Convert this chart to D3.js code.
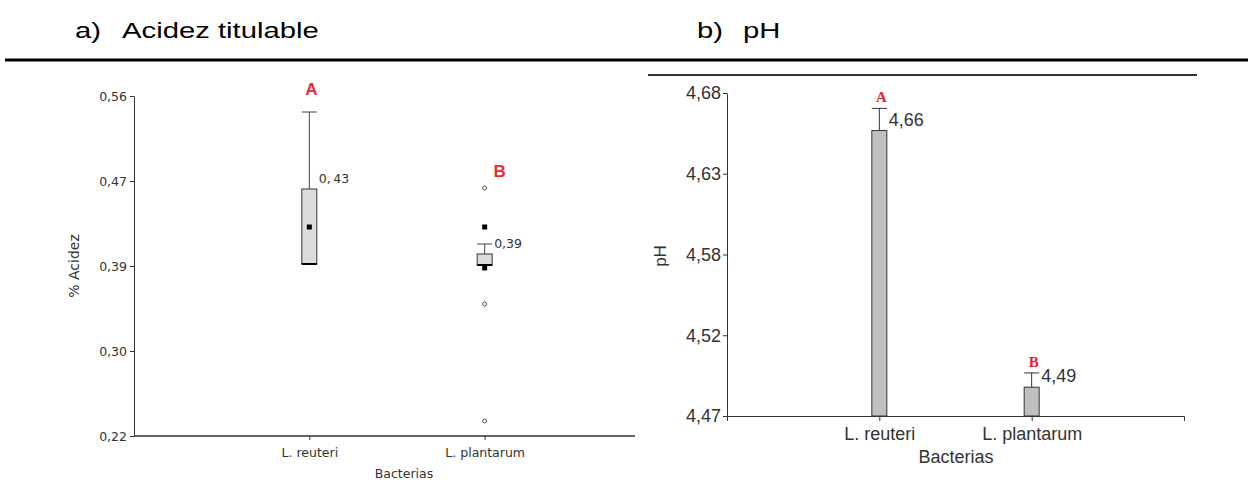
<!DOCTYPE html>
<html>
<head>
<meta charset="utf-8">
<script src="https://cdn.jsdelivr.net/npm/d3@7"></script>
<style>
  body { margin: 0; background: #fff; }
  svg { display: block; }
  .tick text { fill: #333; }
</style>
</head>
<body>
<div id="chart"></div>
<script>
// data
var bacterias = ["L. reuteri", "L. plantarum"];

// a) acidez titulable (boxplot)
var acidTicks = [0.22, 0.305, 0.39, 0.475, 0.56];
var acidTickLabels = ["0,22", "0,30", "0,39", "0,47", "0,56"];
var acidQ1 = [0.392, 0.391];
var acidMedian = [0.392, 0.391];
var acidQ3 = [0.467, 0.402];
var acidWhiskerHi = [0.544, 0.412];
var acidMean = [0.429, 0.388];
var acidMeanLabels = ["0,\u200943", "0,39"];
var acidOutliers = [[], [0.468, 0.352, 0.235]];
var acidExtremes = [[], [0.429]];
var acidLetters = ["A", "B"];

// b) pH (bars + error)
var phTicks = [4.47, 4.5225, 4.575, 4.6275, 4.68];
var phTickLabels = ["4,47", "4,52", "4,58", "4,63", "4,68"];
var phMean = [4.6556, 4.4887];
var phErrTop = [4.670, 4.498];
var phLabels = ["4,66", "4,49"];
var phLetters = ["A", "B"];

var svgWidth = 1248, svgHeight = 480;
var svg = d3.select("#chart").append("svg")
  .attr("width", svgWidth)
  .attr("height", svgHeight);

// headers
function header(x, txt) {
  svg.append("text")
    .attr("transform", `translate(${x}, 38) scale(1.33, 1)`)
    .attr("font-family", "Liberation Sans, Arial, sans-serif")
    .attr("font-size", 22)
    .attr("fill", "#000")
    .text(txt);
}
header(75, "a)");
header(122, "Acidez titulable");
header(697, "b)");
header(743, "pH");

svg.append("line")
  .attr("x1", 5).attr("x2", svgWidth)
  .attr("y1", 60).attr("y2", 60)
  .attr("stroke", "#000").attr("stroke-width", 3);

// ---------- a) boxplot ----------
var aFont = "DejaVu Sans, Verdana, sans-serif";
var a = { left: 134, right: 635, top: 96, bottom: 436 };

var xA = d3.scalePoint().domain(bacterias).range([a.left, 660]).padding(1);
var yA = d3.scaleLinear().domain([0.22, 0.56]).range([a.bottom, a.top]);

var gA = svg.append("g");

var yAxisA = d3.axisLeft(yA)
  .tickValues(acidTicks)
  .tickFormat((d, i) => acidTickLabels[i])
  .tickSize(4).tickSizeOuter(0).tickPadding(3);
gA.append("g")
  .attr("transform", `translate(${a.left},0)`)
  .call(yAxisA)
  .call(g => g.selectAll("text").attr("font-family", aFont).attr("font-size", 12.5))
  .call(g => g.selectAll("line,path").attr("stroke", "#333"));

var xAxisA = d3.axisBottom(xA).tickSize(4).tickSizeOuter(0).tickPadding(8);
gA.append("g")
  .attr("transform", `translate(0,${a.bottom})`)
  .call(xAxisA)
  .call(g => g.select(".domain").remove())
  .call(g => g.selectAll("text").attr("font-family", aFont).attr("font-size", 12.5))
  .call(g => g.selectAll("line").attr("stroke", "#333"));
gA.append("line")
  .attr("x1", a.left).attr("x2", a.right)
  .attr("y1", a.bottom).attr("y2", a.bottom)
  .attr("stroke", "#333").attr("stroke-width", 1.5);

gA.append("text")
  .attr("transform", `translate(79, 266) rotate(-90)`)
  .attr("text-anchor", "middle")
  .attr("font-family", aFont).attr("font-size", 14)
  .attr("fill", "#333")
  .text("% Acidez");
gA.append("text")
  .attr("x", 404).attr("y", 478)
  .attr("text-anchor", "middle")
  .attr("font-family", aFont).attr("font-size", 12.5)
  .attr("fill", "#333")
  .text("Bacterias");

var boxW = 15;
bacterias.forEach((b, i) => {
  var cx = xA(b);
  // whisker
  gA.append("line")
    .attr("x1", cx).attr("x2", cx)
    .attr("y1", yA(acidWhiskerHi[i])).attr("y2", yA(acidQ3[i]))
    .attr("stroke", "#444");
  gA.append("line")
    .attr("x1", cx - boxW / 2).attr("x2", cx + boxW / 2)
    .attr("y1", yA(acidWhiskerHi[i])).attr("y2", yA(acidWhiskerHi[i]))
    .attr("stroke", "#444");
  // box
  gA.append("rect")
    .attr("x", cx - boxW / 2).attr("width", boxW)
    .attr("y", yA(acidQ3[i])).attr("height", yA(acidQ1[i]) - yA(acidQ3[i]))
    .attr("fill", "#dcdcdc").attr("stroke", "#333");
  // median
  gA.append("line")
    .attr("x1", cx - boxW / 2).attr("x2", cx + boxW / 2)
    .attr("y1", yA(acidMedian[i])).attr("y2", yA(acidMedian[i]))
    .attr("stroke", "#000").attr("stroke-width", 2);
  // mean
  gA.append("rect")
    .attr("x", cx - 2.5).attr("y", yA(acidMean[i]) - 2.5)
    .attr("width", 5).attr("height", 5)
    .attr("fill", "#000");
  // extremes
  acidExtremes[i].forEach(v => {
    gA.append("rect")
      .attr("x", cx - 2.5).attr("y", yA(v) - 2.5)
      .attr("width", 5).attr("height", 5)
      .attr("fill", "#000");
  });
  // outliers
  acidOutliers[i].forEach(v => {
    gA.append("circle")
      .attr("cx", cx).attr("cy", yA(v)).attr("r", 2)
      .attr("fill", "none").attr("stroke", "#555").attr("stroke-width", 1);
  });
  // mean label
  gA.append("text")
    .attr("x", cx + boxW / 2 + 2).attr("y", yA(acidQ3[i]) - 6)
    .attr("font-family", aFont).attr("font-size", 12.5)
    .attr("fill", "#333")
    .text(acidMeanLabels[i]);
  // letter
  var topV = d3.max([acidWhiskerHi[i]].concat(acidOutliers[i]));
  gA.append("text")
    .attr("x", cx + (i === 0 ? 2 : 15))
    .attr("y", yA(topV) - (i === 0 ? 17 : 11))
    .attr("text-anchor", "middle")
    .attr("font-family", "Liberation Sans, Arial, sans-serif")
    .attr("font-weight", "bold").attr("font-size", 17)
    .attr("fill", "#ee2a3a")
    .text(acidLetters[i]);
});

// ---------- b) pH bars ----------
var bFont = "Liberation Sans, Arial, sans-serif";
var p = { left: 727, right: 1184, top: 93, bottom: 416 };

svg.append("line")
  .attr("x1", 648).attr("x2", 1197)
  .attr("y1", 75).attr("y2", 75)
  .attr("stroke", "#333").attr("stroke-width", 2);

var xB = d3.scalePoint().domain(bacterias).range([p.left, p.right]).padding(1);
var yB = d3.scaleLinear().domain([4.47, 4.68]).range([p.bottom, p.top]);

var gB = svg.append("g");

gB.append("g")
  .attr("transform", `translate(${p.left},0)`)
  .call(d3.axisLeft(yB)
    .tickValues(phTicks)
    .tickFormat((d, i) => phTickLabels[i])
    .tickSize(4).tickSizeOuter(0).tickPadding(2))
  .call(g => g.selectAll("text").attr("font-family", bFont).attr("font-size", 18))
  .call(g => g.selectAll("line,path").attr("stroke", "#333"));

gB.append("g")
  .attr("transform", `translate(0,${p.bottom})`)
  .call(d3.axisBottom(xB).tickSize(5).tickSizeOuter(5).tickPadding(6))
  .call(g => g.selectAll("text").attr("font-family", bFont).attr("font-size", 18))
  .call(g => g.selectAll("line,path").attr("stroke", "#333"));

gB.append("text")
  .attr("transform", `translate(666, 256) rotate(-90)`)
  .attr("text-anchor", "middle")
  .attr("font-family", bFont).attr("font-size", 17)
  .attr("fill", "#333")
  .text("pH");
gB.append("text")
  .attr("x", 956).attr("y", 463)
  .attr("text-anchor", "middle")
  .attr("font-family", bFont).attr("font-size", 18)
  .attr("fill", "#333")
  .text("Bacterias");

var barW = 15;
bacterias.forEach((b, i) => {
  var cx = xB(b);
  gB.append("line")
    .attr("x1", cx).attr("x2", cx)
    .attr("y1", yB(phErrTop[i])).attr("y2", yB(phMean[i]))
    .attr("stroke", "#333");
  gB.append("line")
    .attr("x1", cx - barW / 2).attr("x2", cx + barW / 2)
    .attr("y1", yB(phErrTop[i])).attr("y2", yB(phErrTop[i]))
    .attr("stroke", "#333");
  gB.append("rect")
    .attr("x", cx - barW / 2).attr("width", barW)
    .attr("y", yB(phMean[i])).attr("height", yB(4.47) - yB(phMean[i]))
    .attr("fill", "#c0c0c0").attr("stroke", "#333");
  gB.append("text")
    .attr("x", cx + barW / 2 + 2).attr("y", yB(phMean[i]) - 5)
    .attr("font-family", bFont).attr("font-size", 18)
    .attr("fill", "#333")
    .text(phLabels[i]);
  gB.append("text")
    .attr("x", cx + 2).attr("y", yB(phErrTop[i]) - 6)
    .attr("text-anchor", "middle")
    .attr("font-family", "Liberation Serif, Times New Roman, serif")
    .attr("font-weight", "bold").attr("font-size", 15)
    .attr("fill", "#ee2030")
    .text(phLetters[i]);
});
</script>
</body>
</html>
